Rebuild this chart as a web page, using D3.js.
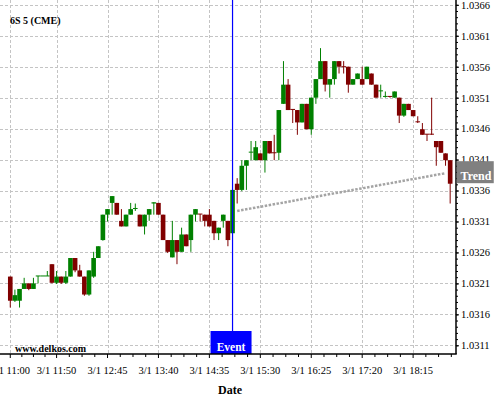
<!DOCTYPE html>
<html>
<head>
<meta charset="utf-8">
<script src="https://cdnjs.cloudflare.com/ajax/libs/d3/7.8.5/d3.min.js"></script>
<style>
  html, body { margin: 0; padding: 0; background: #fff; }
  svg { display: block; font-family: "Liberation Serif", "Times New Roman", serif; }
</style>
</head>
<body>
<svg id="chart" width="500" height="400"></svg>
<script>
// ---- data ----
const title = "6S 5 (CME)";
const firstBar = "3/1 11:00";
const barMinutes = 5;
const opens = [1.03221,1.03182,1.03182,1.03201,1.03210,1.03201,1.03221,1.03222,1.03222,1.03241,
  1.03211,1.03221,1.03211,1.03221,1.03251,1.03231,1.03221,1.03192,1.03221,1.03251,
  1.03280,1.03321,1.03340,1.03340,1.03311,1.03302,1.03321,1.03330,1.03321,1.03302,
  1.03321,1.03339,1.03340,1.03321,1.03280,1.03252,1.03280,1.03261,1.03289,1.03280,
  1.03321,1.03322,1.03321,1.03321,1.03311,1.03291,1.03311,1.03311,1.03291,1.03371,
  1.03361,1.03400,1.03421,1.03409,1.03420,1.03409,1.03440,1.03421,1.03421,1.03500,
  1.03531,1.03491,1.03490,1.03470,1.03500,1.03459,1.03510,1.03540,1.03569,1.03531,
  1.03540,1.03569,1.03560,1.03560,1.03531,1.03540,1.03540,1.03540,1.03549,1.03531,
  1.03520,1.03511,1.03512,1.03510,1.03510,1.03481,1.03500,1.03490,1.03471,1.03459,
  1.03451,1.03451,1.03440,1.03440,1.03420,1.03409];
const highs = [1.03221,1.03200,1.03201,1.03219,1.03210,1.03219,1.03222,1.03222,1.03230,1.03241,
  1.03230,1.03221,1.03230,1.03251,1.03251,1.03240,1.03221,1.03231,1.03261,1.03270,
  1.03321,1.03330,1.03351,1.03340,1.03330,1.03321,1.03340,1.03339,1.03321,1.03321,
  1.03330,1.03341,1.03340,1.03321,1.03280,1.03311,1.03280,1.03300,1.03289,1.03321,
  1.03330,1.03322,1.03321,1.03330,1.03311,1.03300,1.03321,1.03311,1.03361,1.03380,
  1.03409,1.03409,1.03440,1.03440,1.03420,1.03440,1.03440,1.03450,1.03490,1.03569,
  1.03540,1.03491,1.03490,1.03500,1.03500,1.03510,1.03540,1.03590,1.03569,1.03540,
  1.03569,1.03569,1.03569,1.03560,1.03540,1.03549,1.03560,1.03560,1.03549,1.03531,
  1.03531,1.03520,1.03512,1.03520,1.03510,1.03500,1.03500,1.03490,1.03480,1.03469,
  1.03451,1.03510,1.03440,1.03440,1.03420,1.03409];
const lows = [1.03171,1.03180,1.03171,1.03201,1.03199,1.03201,1.03210,1.03222,1.03222,1.03210,
  1.03209,1.03209,1.03209,1.03221,1.03228,1.03221,1.03190,1.03190,1.03219,1.03251,
  1.03279,1.03310,1.03321,1.03321,1.03302,1.03302,1.03321,1.03327,1.03302,1.03289,
  1.03311,1.03321,1.03321,1.03280,1.03259,1.03252,1.03241,1.03261,1.03270,1.03261,
  1.03310,1.03310,1.03302,1.03302,1.03280,1.03280,1.03300,1.03270,1.03291,1.03339,
  1.03359,1.03361,1.03409,1.03409,1.03409,1.03389,1.03420,1.03409,1.03409,1.03500,
  1.03490,1.03469,1.03450,1.03470,1.03459,1.03450,1.03500,1.03540,1.03520,1.03510,
  1.03531,1.03549,1.03549,1.03518,1.03531,1.03540,1.03531,1.03540,1.03531,1.03510,
  1.03510,1.03510,1.03510,1.03510,1.03469,1.03479,1.03490,1.03480,1.03469,1.03450,
  1.03440,1.03450,1.03400,1.03421,1.03400,1.03339];
const closes = [1.03182,1.03191,1.03201,1.03210,1.03201,1.03210,1.03222,1.03222,1.03222,1.03211,
  1.03221,1.03211,1.03221,1.03251,1.03231,1.03221,1.03192,1.03231,1.03251,1.03270,
  1.03321,1.03330,1.03351,1.03321,1.03302,1.03321,1.03330,1.03331,1.03302,1.03321,
  1.03330,1.03341,1.03321,1.03280,1.03261,1.03280,1.03261,1.03289,1.03270,1.03321,
  1.03330,1.03321,1.03311,1.03302,1.03291,1.03300,1.03321,1.03280,1.03361,1.03361,
  1.03400,1.03409,1.03422,1.03430,1.03409,1.03440,1.03420,1.03420,1.03490,1.03531,
  1.03490,1.03490,1.03470,1.03500,1.03459,1.03510,1.03540,1.03569,1.03531,1.03540,
  1.03569,1.03560,1.03559,1.03531,1.03540,1.03549,1.03531,1.03560,1.03531,1.03510,
  1.03521,1.03512,1.03511,1.03520,1.03481,1.03500,1.03490,1.03480,1.03470,1.03450,
  1.03450,1.03450,1.03430,1.03421,1.03409,1.03371];
const xTickLabels = ["3/1 11:00","3/1 11:50","3/1 12:45","3/1 13:40","3/1 14:35","3/1 15:30","3/1 16:25","3/1 17:20","3/1 18:15"];
const yTickValues = [1.0311,1.0316,1.0321,1.0326,1.0331,1.0336,1.0341,1.0346,1.0351,1.0356,1.0361,1.0366];
const eventTime = "3/1 15:00";
const eventLabel = "Event";
const trendTimes = ["3/1 15:05","3/1 18:50"];
const trendValues = [1.03327, 1.03388];
const trendLabel = "Trend";
const watermark = "www.delkos.com";
const xTitle = "Date";

// ---- layout ----
const parse = d3.timeParse("%m/%d %H:%M");
const t0 = parse(firstBar);
const barTimes = opens.map((_, i) => d3.timeMinute.offset(t0, barMinutes * i));
const plotL = 0, plotR = 456, plotT = 0, plotB = 354;

const x = d3.scaleTime()
  .domain([new Date(+t0 - 2.22 * barMinutes * 60000), new Date(+t0 + 96.26 * barMinutes * 60000)])
  .range([plotL, plotR]);
const y = d3.scaleLinear().domain([1.0311, 1.0366]).range([345.3, 4.8]);
const step = x(d3.timeMinute.offset(t0, barMinutes)) - x(t0);

const svg = d3.select("#chart");
svg.append("rect").attr("width", 500).attr("height", 400).attr("fill", "#fff");

const grid = svg.append("g").attr("stroke", "#c4c4c4").attr("stroke-dasharray", "3,2").attr("stroke-width", 1);
const majorTimes = xTickLabels.map(parse);
grid.selectAll("line.v").data(majorTimes).join("line")
  .attr("x1", d => Math.round(x(d)) + 0.5).attr("x2", d => Math.round(x(d)) + 0.5)
  .attr("y1", plotT).attr("y2", plotB);
grid.selectAll("line.h").data(yTickValues).join("line")
  .attr("x1", plotL).attr("x2", plotR)
  .attr("y1", d => Math.round(y(d)) + 0.5).attr("y2", d => Math.round(y(d)) + 0.5);

// watermark / title
svg.append("text").attr("x", 10).attr("y", 24).attr("font-size", 10).attr("font-weight", "bold").text(title);
svg.append("text").attr("x", 15).attr("y", 351.5).attr("font-size", 10).attr("font-weight", "bold").text(watermark);

// trend line
const trendPts = trendTimes.map((t, i) => [x(parse(t)), y(trendValues[i])]);
svg.append("path").attr("d", d3.line()(trendPts))
  .attr("stroke", "#a4a4a4").attr("stroke-width", 2.5).attr("stroke-dasharray", "2.5,1.5").attr("fill", "none");

// candles
const bars = barTimes.map((t, i) => ({t, o: opens[i], h: highs[i], l: lows[i], c: closes[i]}));
const up = "#008000", down = "#800000";
const cg = svg.append("g");
cg.selectAll("line.wick").data(bars).join("line")
  .attr("x1", d => x(d.t)).attr("x2", d => x(d.t))
  .attr("y1", d => y(d.h)).attr("y2", d => y(d.l))
  .attr("stroke", d => d.c >= d.o ? up : down).attr("stroke-width", 1);
cg.selectAll("rect.body").data(bars).join("rect")
  .attr("x", d => x(d.t) - step / 2)
  .attr("width", step)
  .attr("y", d => Math.min(y(d.o), y(d.c)) - (Math.abs(y(d.o) - y(d.c)) < 1 ? 0.5 : 0))
  .attr("height", d => Math.max(1, Math.abs(y(d.o) - y(d.c))))
  .attr("fill", d => d.c >= d.o ? up : down);

// event line
const ex = x(parse(eventTime));
svg.append("line").attr("x1", ex).attr("x2", ex).attr("y1", plotT).attr("y2", plotB)
  .attr("stroke", "#0000ff").attr("stroke-width", 1.2);
svg.append("rect").attr("x", ex - 22).attr("y", 331).attr("width", 41).attr("height", plotB - 331).attr("fill", "#0000ff");
svg.append("text").attr("x", ex - 1.5).attr("y", 350.5).attr("text-anchor", "middle")
  .attr("font-size", 11.5).attr("font-weight", "bold").attr("fill", "#fff").text(eventLabel);

// right axis
const minorY = d3.range(0, 56).map(k => 1.0311 + k * 0.0001).filter(v => y(v) >= plotT);
const ya = svg.append("g").attr("transform", `translate(${plotR},0)`);
ya.call(d3.axisRight(y).tickValues(minorY).tickSize(2).tickFormat(""));
ya.call(g => g.select(".domain").remove());
const ya2 = svg.append("g").attr("transform", `translate(${plotR},0)`);
ya2.call(d3.axisRight(y).tickValues(yTickValues).tickSize(3).tickPadding(2).tickFormat(d3.format(".4f")));
ya2.select(".domain").remove();
ya2.selectAll("text").attr("font-size", 10.5).attr("font-family", "Liberation Serif, serif").attr("fill", "#000");
svg.selectAll(".tick line").attr("stroke", "#000");

// x axis ticks
const minorStep = 55 / 4;
const minorTimes = d3.range(-1, 36).map(k => d3.timeMinute.offset(majorTimes[0], 0)).map((d, k) => new Date(+majorTimes[0] + (k - 1) * minorStep * 60000 - 5 * 60000 * (k - 1 > 3 ? 0 : 0)));
// minor ticks: 3 between each major pair, plus before first and after last
const minorList = [];
for (let k = -1; k < majorTimes.length; k++) {
  const a = k < 0 ? new Date(+majorTimes[0] - 50 * 60000) : majorTimes[k];
  const span = k < 0 ? 50 : (k === 0 ? 50 : 55);
  for (let j = 1; j < 4; j++) minorList.push(new Date(+a + j * span / 4 * 60000));
}
svg.append("g").selectAll("line").data(minorList.filter(d => x(d) >= plotL && x(d) <= plotR)).join("line")
  .attr("x1", d => x(d)).attr("x2", d => x(d)).attr("y1", plotB).attr("y2", plotB + 3)
  .attr("stroke", "#000").attr("stroke-width", 1);
svg.append("g").selectAll("line").data(majorTimes).join("line")
  .attr("x1", d => x(d)).attr("x2", d => x(d)).attr("y1", plotB).attr("y2", plotB + 4)
  .attr("stroke", "#000").attr("stroke-width", 1);
svg.append("g").selectAll("text").data(xTickLabels).join("text")
  .attr("x", d => x(parse(d))).attr("y", 374).attr("text-anchor", "middle")
  .attr("font-size", 10.5).text(d => d);

// axis lines
svg.append("line").attr("x1", plotL).attr("x2", plotR + 0.75).attr("y1", plotB).attr("y2", plotB)
  .attr("stroke", "#000").attr("stroke-width", 1.5);
svg.append("line").attr("x1", plotR).attr("x2", plotR).attr("y1", plotT).attr("y2", plotB)
  .attr("stroke", "#000").attr("stroke-width", 1.5);

// trend label
const ty = trendPts[1][1];
svg.append("rect").attr("x", plotR + 0.75).attr("y", ty - 12).attr("width", 37).attr("height", 22).attr("fill", "#808080");
svg.append("text").attr("x", plotR + 20).attr("y", ty + 6.5).attr("text-anchor", "middle")
  .attr("font-size", 12).attr("font-weight", "bold").attr("fill", "#fff").text(trendLabel);

// x title
svg.append("text").attr("x", 230).attr("y", 394).attr("text-anchor", "middle")
  .attr("font-size", 12).attr("font-weight", "bold").text(xTitle);
</script>
</body>
</html>
